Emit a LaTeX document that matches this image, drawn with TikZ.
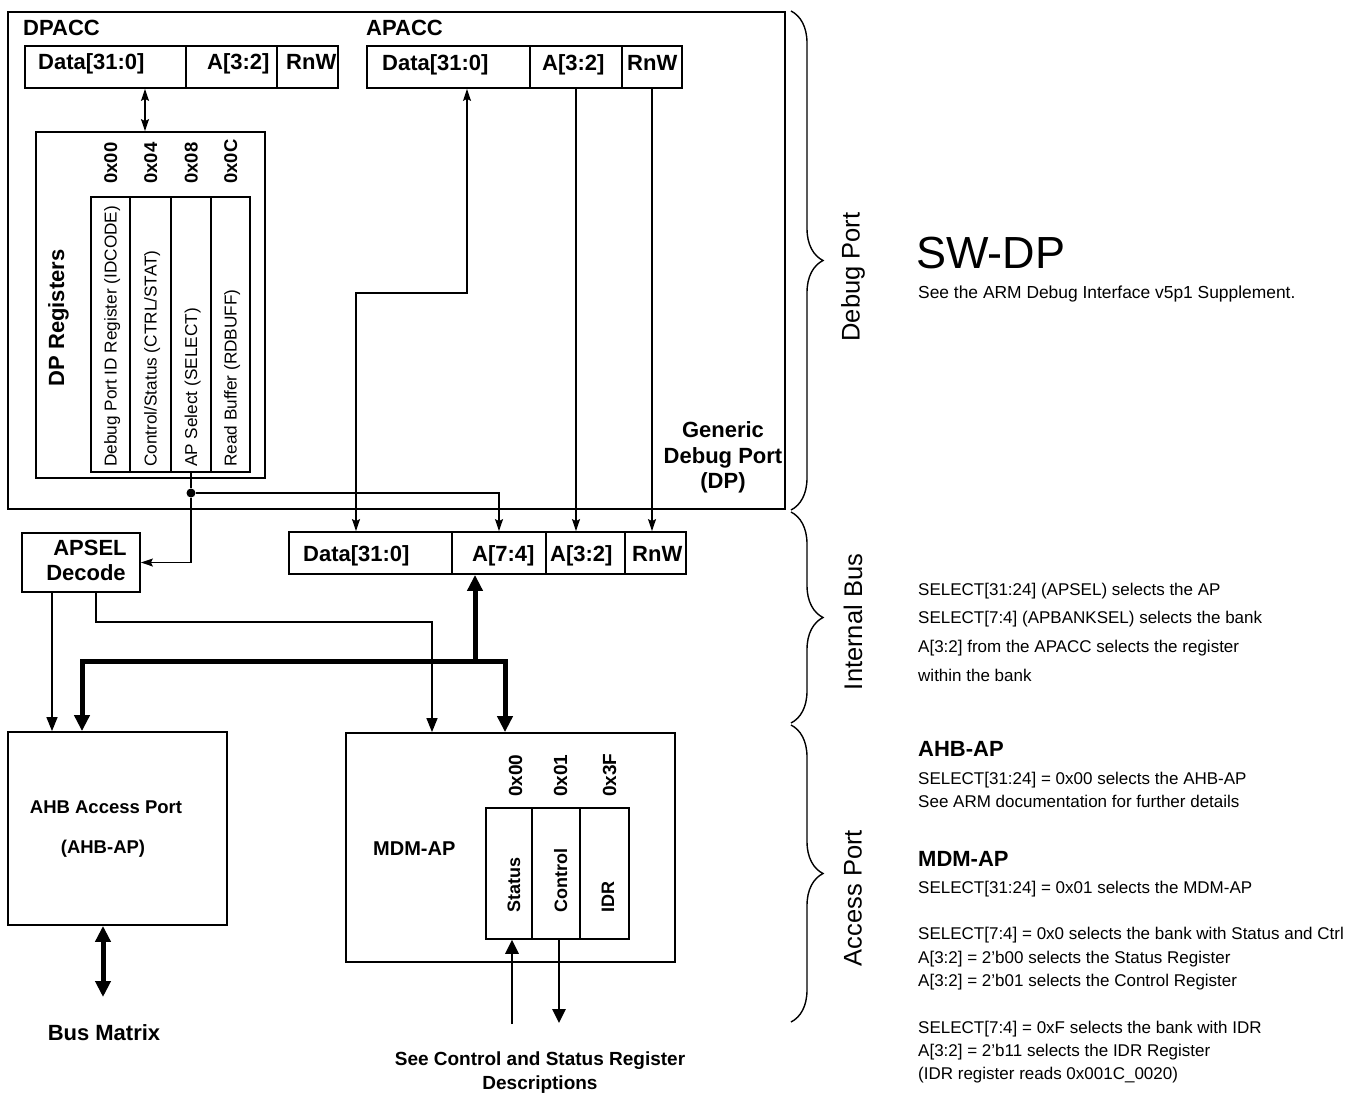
\documentclass[tikz,border=0pt]{standalone}
\usepackage{fontspec}
\setmainfont{Liberation Sans}
\usetikzlibrary{arrows.meta,decorations.pathreplacing,calc}
\begin{document}
\begin{tikzpicture}[x=1pt,y=-1pt,
  box/.style={draw, line width=1.8pt, rectangle, inner sep=0pt},
  col/.style={draw, line width=1.5pt, rectangle, inner sep=0pt},
  lbl/.style={font=\fontsize{22}{26}\selectfont\bfseries, inner sep=0pt},
  lbls/.style={font=\fontsize{18.5}{22}\selectfont\bfseries, inner sep=0pt},
  txt/.style={font=\fontsize{17}{20}\selectfont, inner sep=0pt},
  coltxt/.style={font=\fontsize{17.2}{20}\selectfont, inner sep=0pt, rotate=90, anchor=base west},
  side/.style={font=\fontsize{25.5}{30}\selectfont, inner sep=0pt, rotate=90},
  head/.style={font=\fontsize{22}{26}\selectfont\bfseries, inner sep=0pt, anchor=base west},
  conn/.style={line width=1.3pt},
  sarrow/.style={conn, -{Stealth[length=12pt,width=8pt,inset=2pt]}},
  tarrow/.style={conn, -{Triangle[length=14pt,width=11pt]}},
  thickbus/.style={line width=5pt},
  brc/.style={decorate, decoration={brace, amplitude=32pt, aspect=0.5}, line width=1.4pt},
  dot/.style={circle, fill, inner sep=0pt, minimum size=9pt}
]
\fill[white] (0,0) rectangle (1366,1096);
\useasboundingbox (0,0) rectangle (1366,1096);

% ---------- Debug port outer box
\node[box, line width=2pt, minimum width=777pt, minimum height=497pt] (dp) at (396.5,260.5) {};

% DPACC
\node[lbl, anchor=base west] (dpacc) at (23,35) {DPACC};
\node[box, minimum width=161pt, minimum height=42pt] (dpdata) at (105.5,67) {};
\node[box, minimum width=91pt, minimum height=42pt] (dpa) at (231.5,67) {};
\node[box, minimum width=61pt, minimum height=42pt] (dprnw) at (307.5,67) {};
\node[lbl, anchor=base west] (tdpdata) at (38,69) {Data[31:0]};
\node[lbl, anchor=base west] (tdpa) at (207,69) {A[3:2]};
\node[lbl, anchor=base west] (tdprnw) at (286,69) {RnW};

% APACC
\node[lbl, anchor=base west] (apacc) at (366,35) {APACC};
\node[box, minimum width=163pt, minimum height=42pt] (apdata) at (448.5,67) {};
\node[box, minimum width=92pt, minimum height=42pt] (apa) at (576,67) {};
\node[box, minimum width=60pt, minimum height=42pt] (aprnw) at (652,67) {};
\node[lbl, anchor=base west] (tapdata) at (382,70) {Data[31:0]};
\node[lbl, anchor=base west] (tapa) at (542,70) {A[3:2]};
\node[lbl, anchor=base west] (taprnw) at (627,70) {RnW};

% DP registers
\node[box, minimum width=229pt, minimum height=346pt] (dpreg) at (150.5,305) {};
\node[lbl, rotate=90, anchor=base] (tdpreg) at (64,318) {DP Registers};
\node[col, minimum width=39pt, minimum height=275pt] (r1) at (110.5,334.5) {};
\node[col, minimum width=41pt, minimum height=275pt] (r2) at (150.5,334.5) {};
\node[col, minimum width=40pt, minimum height=275pt] (r3) at (191,334.5) {};
\node[col, minimum width=39pt, minimum height=275pt] (r4) at (230.5,334.5) {};
\node[lbls, rotate=90, anchor=base west] (ad1) at (117,184) {0x00};
\node[lbls, rotate=90, anchor=base west] (ad2) at (157,184) {0x04};
\node[lbls, rotate=90, anchor=base west] (ad3) at (197.5,184) {0x08};
\node[lbls, rotate=90, anchor=base west] (ad4) at (237,184) {0x0C};
\node[coltxt] (tr1) at (116.5,467) {Debug Port ID Register (IDCODE)};
\node[coltxt] (tr2) at (156.5,467) {Control/Status (CTRL/STAT)};
\node[coltxt] (tr3) at (197,467) {AP Select (SELECT)};
\node[coltxt] (tr4) at (236.5,467) {Read Buffer (RDBUFF)};

% Generic debug port label
\node[lbl, anchor=base] (g1) at (723,437) {Generic};
\node[lbl, anchor=base] (g2) at (723,463) {Debug Port};
\node[lbl, anchor=base] (g3) at (723,488) {(DP)};

% Internal bus row
\node[box, minimum width=163pt, minimum height=42pt] (busdata) at (370.5,553) {};
\node[box, minimum width=94pt, minimum height=42pt] (busa74) at (499,553) {};
\node[box, minimum width=79pt, minimum height=42pt] (busa32) at (585.5,553) {};
\node[box, minimum width=61pt, minimum height=42pt] (busrnw) at (655.5,553) {};
\node[lbl, anchor=base west] (tbd) at (303,561) {Data[31:0]};
\node[lbl, anchor=base west] (tb74) at (472,561) {A[7:4]};
\node[lbl, anchor=base west] (tb32) at (550,561) {A[3:2]};
\node[lbl, anchor=base west] (tbr) at (632,561) {RnW};

% APSEL decode
\node[box, minimum width=118pt, minimum height=59pt] (apsel) at (81,562.5) {};
\node[lbl, anchor=base] (ta1) at (90,555) {APSEL};
\node[lbl, anchor=base] (ta2) at (86,580) {Decode};

% AHB-AP
\node[box, minimum width=219pt, minimum height=193pt] (ahb) at (117.5,828.5) {};
\node[lbls, anchor=base] (tahb1) at (106,813) {AHB Access Port};
\node[lbls, anchor=base] (tahb2) at (103,853) {(AHB-AP)};
\node[lbl, anchor=base] (busm) at (104,1040) {Bus Matrix};

% MDM-AP
\node[box, minimum width=329pt, minimum height=229pt] (mdm) at (510.5,847.5) {};
\node[font=\fontsize{20}{24}\selectfont\bfseries, inner sep=0pt, anchor=base west] (tmdm) at (373,855) {MDM-AP};
\node[col, minimum width=46pt, minimum height=131pt] (m1) at (509,873.5) {};
\node[col, minimum width=48pt, minimum height=131pt] (m2) at (556,873.5) {};
\node[col, minimum width=49pt, minimum height=131pt] (m3) at (604.5,873.5) {};
\node[font=\fontsize{19}{22}\selectfont\bfseries, inner sep=0pt, rotate=90, anchor=base west] (am1) at (522,797) {0x00};
\node[font=\fontsize{19}{22}\selectfont\bfseries, inner sep=0pt, rotate=90, anchor=base west] (am2) at (567,797) {0x01};
\node[font=\fontsize{19}{22}\selectfont\bfseries, inner sep=0pt, rotate=90, anchor=base west] (am3) at (616,797) {0x3F};
\node[font=\fontsize{18}{22}\selectfont\bfseries, inner sep=0pt, rotate=90, anchor=base west] (tm1) at (520,913) {Status};
\node[font=\fontsize{18}{22}\selectfont\bfseries, inner sep=0pt, rotate=90, anchor=base west] (tm2) at (567,913) {Control};
\node[font=\fontsize{18}{22}\selectfont\bfseries, inner sep=0pt, rotate=90, anchor=base west] (tm3) at (614,913) {IDR};
\node[font=\fontsize{19}{22}\selectfont\bfseries, inner sep=0pt, anchor=base] (see1) at (540,1065) {See Control and Status Register};
\node[font=\fontsize{19}{22}\selectfont\bfseries, inner sep=0pt, anchor=base] (see2) at (540,1089) {Descriptions};

% ---------- helper coordinates
\coordinate (x145) at (145,0);
\coordinate (k1) at (356,293);
\coordinate (k2) at (467,293);
\coordinate (x52) at (52,0);
\coordinate (k3) at (96,622);
\coordinate (k4) at (432,622);
\coordinate (b1) at (82,661);
\coordinate (b2) at (505,661);
\coordinate (b3) at (475,661);
\coordinate (x103) at (103,0);
\coordinate (bmend) at (103,997);
\coordinate (u1) at (512,1024);
\coordinate (u2) at (559,1023);
\node[dot] (jn) at (191,493) {};

% ---------- connectors
\draw[conn, {Stealth[length=12pt,width=8pt,inset=2pt]}-{Stealth[length=12pt,width=8pt,inset=2pt]}]
  (dpdata.south -| x145) -- (dpreg.north -| x145);
\draw[conn] (r3.south) -- (jn);
\draw[sarrow] (jn) |- (apsel.east);
\draw[sarrow] (jn) -| (busa74.north);
\draw[conn, {Stealth[length=12pt,width=8pt,inset=2pt]}-{Stealth[length=12pt,width=8pt,inset=2pt]}]
  (busdata.north -| k1) -- (k1) -- (k2) -- (apdata.south -| k2);
\draw[sarrow] (apa.south) -- (apa.south |- busa32.north);
\draw[sarrow] (aprnw.south) -- (aprnw.south |- busrnw.north);

\draw[tarrow] (apsel.south -| x52) -- (ahb.north -| x52);
\draw[tarrow] (apsel.south -| k3) -- (k3) -- (k4) -- (mdm.north -| k4);

\draw[thickbus, {Triangle[length=16pt,width=15pt]}-{Triangle[length=16pt,width=15pt]}]
  (ahb.north -| b1) -- (b1) -- (b2) -- (mdm.north -| b2);
\draw[thickbus, -{Triangle[length=16pt,width=15pt]}] (b3) -- (busa74.south -| b3);
\draw[thickbus, {Triangle[length=16pt,width=15pt]}-{Triangle[length=16pt,width=15pt]}]
  (ahb.south -| x103) -- (bmend);

\draw[line width=2.8pt, -{Triangle[length=14pt,width=13pt]}] (u1) -- (m1.south -| u1);
\draw[line width=2.8pt, -{Triangle[length=14pt,width=13pt]}] (m2.south -| u2) -- (u2);

% ---------- braces and side labels
\draw[brc] (791,11) -- (791,510);
\draw[brc] (791,512) -- (791,723);
\draw[brc] (791,725) -- (791,1022);
\node[side] (sdp) at (853,277) {Debug Port};
\node[side] (sib) at (853,622) {Internal Bus};
\node[side] (sap) at (853,898) {Access Port};

% ---------- right-hand text
\node[font=\fontsize{45}{52}\selectfont, inner sep=0pt, anchor=base west] (swdp) at (916,268) {SW-DP};
\node[font=\fontsize{17.4}{20}\selectfont, inner sep=0pt, anchor=base west] (swdp2) at (918,298) {See the ARM Debug Interface v5p1 Supplement.};

\node[txt, anchor=base west] (n1) at (918,595) {SELECT[31:24] (APSEL) selects the AP};
\node[txt, anchor=base west] (n2) at (918,623) {SELECT[7:4] (APBANKSEL) selects the bank};
\node[txt, anchor=base west] (n3) at (918,652) {A[3:2] from the APACC selects the register};
\node[txt, anchor=base west] (n4) at (918,681) {within the bank};

\node[head] (hahb) at (918,756) {AHB-AP};
\node[txt, anchor=base west] (n5) at (918,784) {SELECT[31:24] = 0x00 selects the AHB-AP};
\node[txt, anchor=base west] (n6) at (918,807) {See ARM documentation for further details};

\node[head] (hmdm) at (918,866) {MDM-AP};
\node[txt, anchor=base west] (n7) at (918,893) {SELECT[31:24] = 0x01 selects the MDM-AP};
\node[txt, anchor=base west] (n8) at (918,939) {SELECT[7:4] = 0x0 selects the bank with Status and Ctrl};
\node[txt, anchor=base west] (n9) at (918,963) {A[3:2] = 2’b00 selects the Status Register};
\node[txt, anchor=base west] (n10) at (918,986) {A[3:2] = 2’b01 selects the Control Register};
\node[txt, anchor=base west] (n11) at (918,1033) {SELECT[7:4] = 0xF selects the bank with IDR};
\node[txt, anchor=base west] (n12) at (918,1056) {A[3:2] = 2’b11 selects the IDR Register};
\node[txt, anchor=base west] (n13) at (918,1079) {(IDR register reads 0x001C\_0020)};
\end{tikzpicture}
\end{document}
